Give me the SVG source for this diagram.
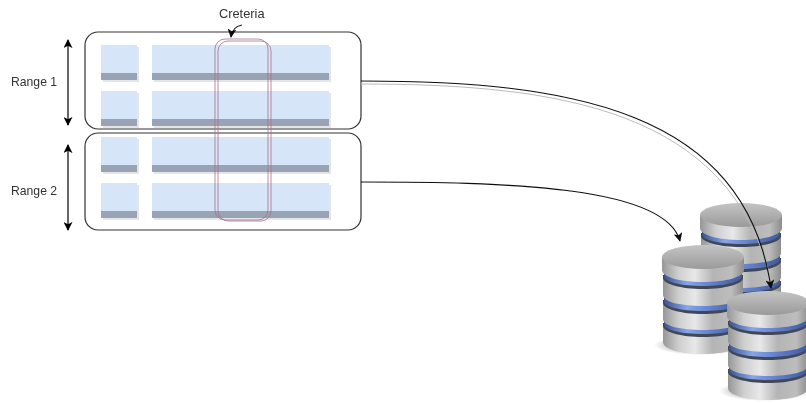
<svg xmlns="http://www.w3.org/2000/svg" width="806" height="403" viewBox="0 0 806 403">
<style>
text{font-family:"Liberation Sans",Arial,sans-serif;font-size:12.2px;fill:#333}
.box{fill:#fff;stroke:#333;stroke-width:1.2}
.cl{fill:#d6e5f8}
.cd{fill:#98a3b5}
.sh{fill:#000;opacity:.1}
.crit{fill:none;stroke:#a9708a;stroke-width:1;opacity:.8}
.edge{fill:none;stroke:#111;stroke-width:1.1}
.rng{fill:none;stroke:#000;stroke-width:1.2;marker-start:url(#ah);marker-end:url(#ah)}
</style>
<defs>
<filter id="soft" x="0" y="0" width="100%" height="100%"><feGaussianBlur stdDeviation="0.45"/></filter>
<marker id="ah" viewBox="0 0 10 10" refX="9" refY="5" markerWidth="9" markerHeight="9" markerUnits="userSpaceOnUse" orient="auto-start-reverse"><path d="M0 0L10 5L0 10L2.5 5Z" fill="#000"/></marker>
<marker id="ah2" viewBox="0 0 10 10" refX="9" refY="5" markerWidth="9" markerHeight="9" markerUnits="userSpaceOnUse" orient="auto"><path d="M0 0L10 5L0 10L2.5 5Z" fill="#111"/></marker>
<linearGradient id="steel"><stop offset="0" stop-color="#969696"/><stop offset=".2" stop-color="#cfcfcf"/><stop offset=".4" stop-color="#e8e8e8"/><stop offset=".62" stop-color="#b4b4b4"/><stop offset=".85" stop-color="#bdbdbd"/><stop offset="1" stop-color="#8c8c8c"/></linearGradient>
<linearGradient id="blue"><stop offset="0" stop-color="#3d5590"/><stop offset=".3" stop-color="#86a5ea"/><stop offset=".6" stop-color="#6380cc"/><stop offset="1" stop-color="#3f5a9c"/></linearGradient>
<linearGradient id="lid" x1="0" y1="0" x2="0" y2="1"><stop offset="0" stop-color="#c4c4c4"/><stop offset="1" stop-color="#9a9a9a"/></linearGradient>
<radialGradient id="gs"><stop offset=".6" stop-color="#000" stop-opacity=".25"/><stop offset="1" stop-color="#000" stop-opacity="0"/></radialGradient>
<symbol id="db" width="96" height="118" viewBox="-7 -2 96 118" overflow="visible">
<ellipse cx="38" cy="100" rx="46" ry="10" fill="url(#gs)"/>
<path d="M1 80V97C1 104 19 109 41 109S81 104 81 97V80Z" fill="url(#steel)"/>
<path d="M1 78V81C1 87 19 92 41 92S81 87 81 81V78Z" fill="#3f4656"/>
<path d="M2 76V79C2 85 19 89 41 89S80 85 80 79V76Z" fill="url(#blue)"/>
<path d="M1 57V74C1 81 19 85 41 85S81 81 81 74V57Z" fill="url(#steel)"/>
<path d="M1 55V58C1 64 19 69 41 69S81 64 81 58V55Z" fill="#3f4656"/>
<path d="M2 53V56C2 62 19 66 41 66S80 62 80 56V53Z" fill="url(#blue)"/>
<path d="M1 32V50C1 57 19 61 41 61S81 57 81 50V32Z" fill="url(#steel)"/>
<path d="M1 30V33C1 39 19 44 41 44S81 39 81 33V30Z" fill="#3f4656"/>
<path d="M2 28V31C2 37 19 41 41 41S80 37 80 31V28Z" fill="url(#blue)"/>
<path d="M0 12V25C0 32 18 37 41 37S82 32 82 25V12Z" fill="url(#steel)"/>
<ellipse cx="41" cy="12" rx="41" ry="12" fill="url(#lid)"/>
</symbol>
<g id="row-shape">
<rect class="sh" x="103" y="2" width="36" height="35"/><rect class="sh" x="154" y="2" width="177" height="35"/>
<rect class="cl" x="101" y="0" width="36" height="28"/><rect class="cd" x="101" y="28" width="36" height="7"/>
<rect class="cl" x="152" y="0" width="177" height="28"/><rect class="cd" x="152" y="28" width="177" height="7"/>
</g>
</defs>
<rect width="806" height="403" fill="#fff"/>
<g filter="url(#soft)">
<g id="range1"><rect class="box" x="85" y="32" width="276" height="97" rx="13"/></g>
<g id="range2"><rect class="box" x="85" y="133" width="276" height="97" rx="13"/></g>
<g id="rows">
<use href="#row-shape" y="45"/>
<use href="#row-shape" y="91"/>
<use href="#row-shape" y="137"/>
<use href="#row-shape" y="183"/>
</g>
<g id="criteria-box">
<rect class="crit" x="215" y="39" width="53" height="181" rx="10"/>
<rect class="crit" x="218" y="41" width="53" height="180" rx="10"/>
</g>
<g id="label-range1"><text x="11" y="86">Range 1</text></g>
<g id="label-range2"><text x="11" y="195">Range 2</text></g>
<g id="label-criteria"><text x="219" y="18" style="font-size:12.8px">Creteria</text></g>
<g id="db-back"><use href="#db" x="693" y="201"/></g>
<g id="db-left"><use href="#db" x="655" y="243"/></g>
<g id="connectors">
<path class="rng" d="M68 40V125"/>
<path class="rng" d="M68 145V230"/>
<path class="edge" d="M242 25C236 26 232 29 231 37" marker-end="url(#ah2)"/>
<path d="M361 84C560 84 730 110 771 280" fill="none" stroke="#bbb" stroke-width="1"/>
<path class="edge" d="M361 81C570 81 745 110 771 288" marker-end="url(#ah2)"/>
<path class="edge" d="M361 182C500 182 665 185 680 241" marker-end="url(#ah2)"/>
</g>
<g id="db-front"><use href="#db" x="720" y="289"/></g>
</g>
</svg>
